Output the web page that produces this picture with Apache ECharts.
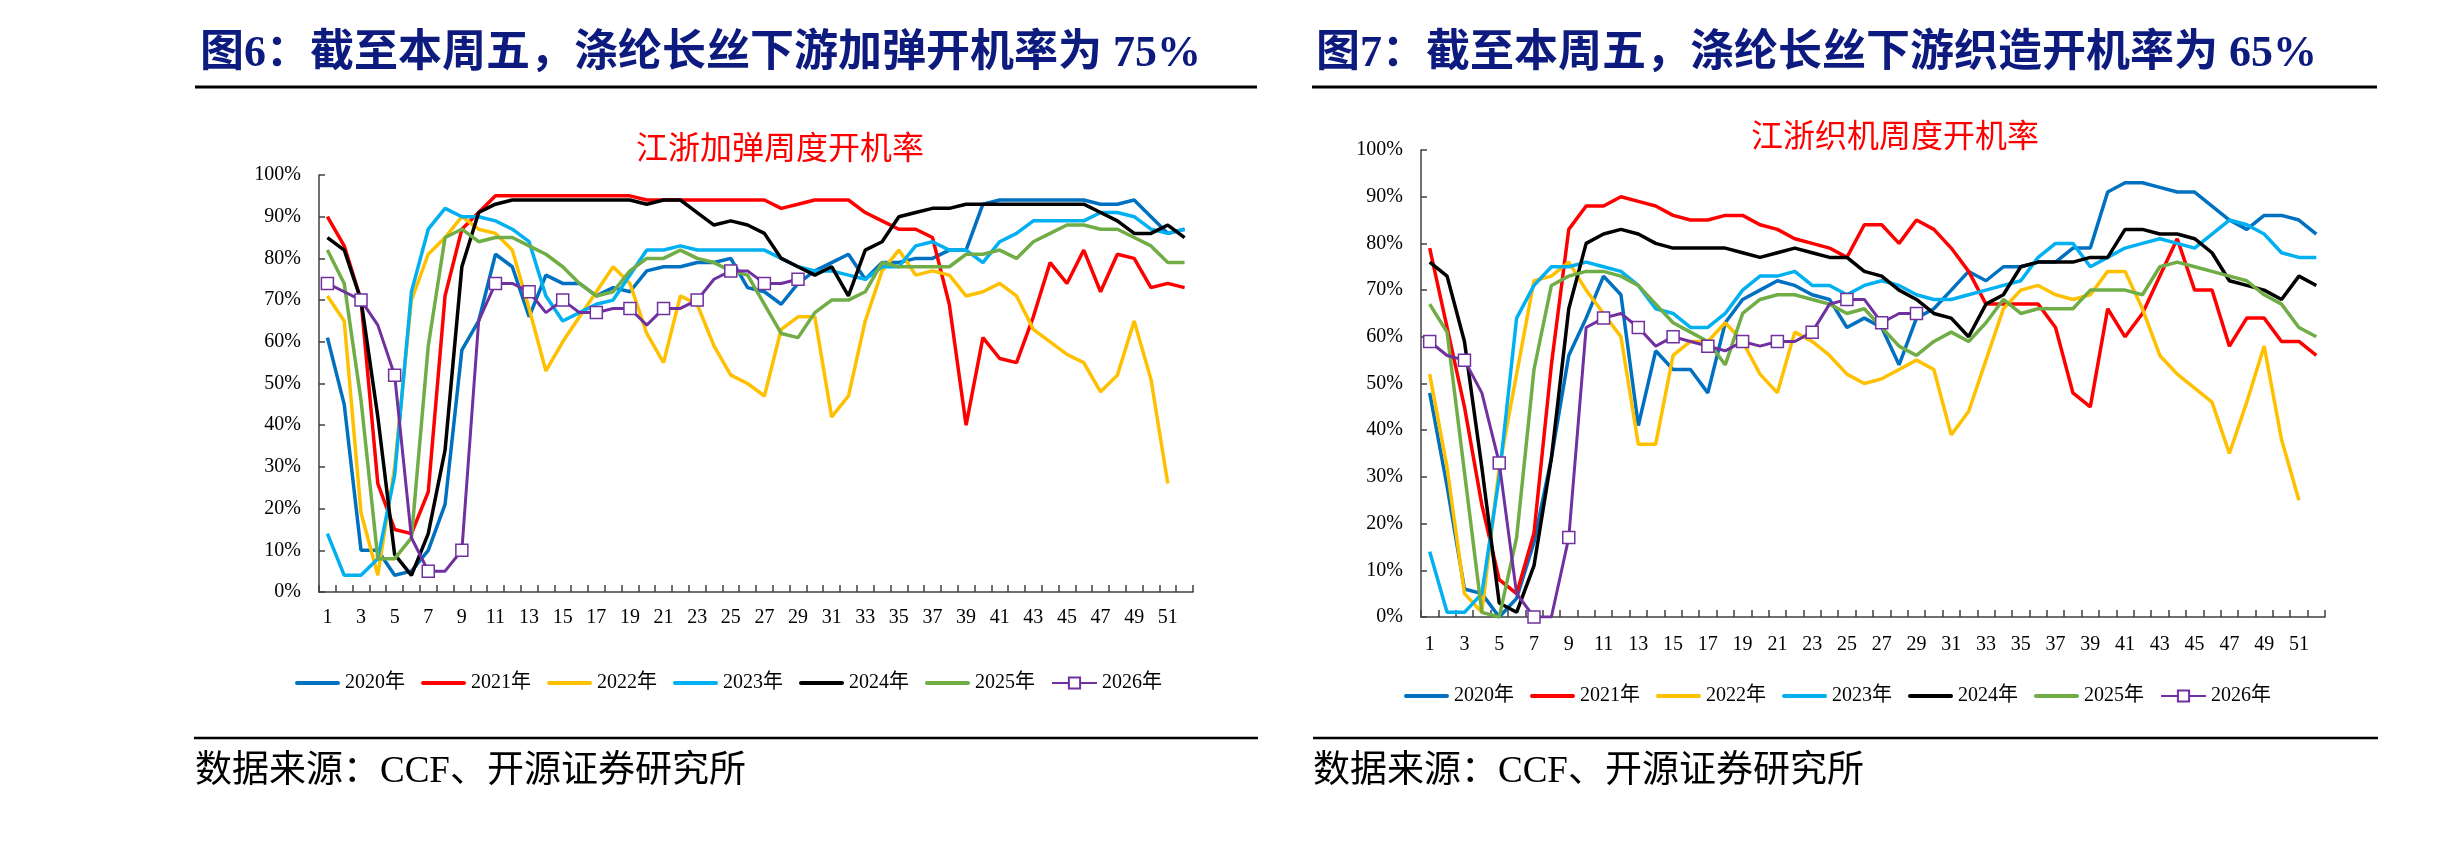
<!DOCTYPE html>
<html>
<head>
<meta charset="utf-8">
<title>涤纶长丝下游开机率</title>
<script src="https://cdn.jsdelivr.net/npm/echarts@6/dist/echarts.min.js"></script>
<style>
    html, body {margin: 0; padding: 0; background: #fff;}
    #main {width: 2457px; height: 843px;}
</style>
</head>
<body>
<div id="main"></div>
<script>
// 周次 1..52
let weeks = [];
for (let i = 1; i <= 52; i++) {
    weeks.push(String(i));
}

let yearNames = ['2020年', '2021年', '2022年', '2023年', '2024年', '2025年', '2026年'];
let yearColors = ['#0070C0', '#FF0000', '#FFC000', '#00B0F0', '#000000', '#70AD47', '#7030A0'];

// 江浙加弹周度开机率 (%)
let jt2020 = [61, 45, 10, 10, 4, 5, 10, 21, 58, 65, 81, 78, 66, 76, 74, 74, 71, 73, 72, 77, 78, 78, 79, 79, 80, 73, 72, 69, 74, 77, 79, 81, 75, 79, 79, 80, 80, 82, 82, 93, 94, 94, 94, 94, 94, 94, 93, 93, 94, 90, 86, 87];
let jt2021 = [90, 83, 70, 26, 15, 14, 24, 71, 87, 91, 95, 95, 95, 95, 95, 95, 95, 95, 95, 94, 94, 94, 94, 94, 94, 94, 94, 92, 93, 94, 94, 94, 91, 89, 87, 87, 85, 69, 40, 61, 56, 55, 66, 79, 74, 82, 72, 81, 80, 73, 74, 73];
let jt2022 = [71, 65, 19, 4, 30, 70, 81, 85, 90, 87, 86, 82, 68, 53, 60, 66, 72, 78, 74, 62, 55, 71, 69, 59, 52, 50, 47, 63, 66, 66, 42, 47, 65, 77, 82, 76, 77, 76, 71, 72, 74, 71, 63, 60, 57, 55, 48, 52, 65, 51, 26, null];
let jt2023 = [14, 4, 4, 8, 28, 72, 87, 92, 90, 90, 89, 87, 84, 71, 65, 67, 69, 70, 76, 82, 82, 83, 82, 82, 82, 82, 82, 80, 78, 77, 77, 76, 75, 78, 78, 83, 84, 82, 82, 79, 84, 86, 89, 89, 89, 89, 91, 91, 90, 87, 86, 87];
let jt2024 = [85, 82, 70, 42, 9, 4, 14, 34, 78, 91, 93, 94, 94, 94, 94, 94, 94, 94, 94, 93, 94, 94, 91, 88, 89, 88, 86, 80, 78, 76, 78, 71, 82, 84, 90, 91, 92, 92, 93, 93, 93, 93, 93, 93, 93, 93, 91, 89, 86, 86, 88, 85];
let jt2025 = [82, 74, 46, 8, 8, 13, 59, 85, 87, 84, 85, 85, 83, 81, 78, 74, 71, 72, 77, 80, 80, 82, 80, 79, 77, 76, 69, 62, 61, 67, 70, 70, 72, 79, 78, 78, 78, 78, 81, 81, 82, 80, 84, 86, 88, 88, 87, 87, 85, 83, 79, 79];
let jt2026 = [74, 72, 70, 64, 52, 13, 5, 5, 10, 65, 74, 74, 72, 67, 70, 67, 67, 68, 68, 64, 68, 68, 70, 75, 77, 77, 74, 74, 75];

// 江浙织机周度开机率 (%)
let zz2020 = [48, 28, 6, 5, 0, 4, 16, 34, 56, 64, 73, 69, 41, 57, 53, 53, 48, 63, 68, 70, 72, 71, 69, 68, 62, 64, 62, 54, 64, 66, 70, 74, 72, 75, 75, 76, 76, 79, 79, 91, 93, 93, 92, 91, 91, 88, 85, 83, 86, 86, 85, 82];
let zz2021 = [79, 62, 45, 24, 8, 5, 18, 54, 83, 88, 88, 90, 89, 88, 86, 85, 85, 86, 86, 84, 83, 81, 80, 79, 77, 84, 84, 80, 85, 83, 79, 74, 67, 67, 67, 67, 62, 48, 45, 66, 60, 65, 73, 81, 70, 70, 58, 64, 64, 59, 59, 56];
let zz2022 = [52, 32, 5, 1, 32, 52, 72, 73, 76, 70, 65, 60, 37, 37, 56, 59, 59, 63, 59, 52, 48, 61, 59, 56, 52, 50, 51, 53, 55, 53, 39, 44, 55, 66, 70, 71, 69, 68, 69, 74, 74, 66, 56, 52, 49, 46, 35, 46, 58, 38, 25, null];
let zz2023 = [14, 1, 1, 5, 30, 64, 71, 75, 75, 76, 75, 74, 71, 66, 65, 62, 62, 65, 70, 73, 73, 74, 71, 71, 69, 71, 72, 71, 69, 68, 68, 69, 70, 71, 72, 77, 80, 80, 75, 77, 79, 80, 81, 80, 79, 82, 85, 84, 82, 78, 77, 77];
let zz2024 = [76, 73, 59, 32, 3, 1, 11, 34, 66, 80, 82, 83, 82, 80, 79, 79, 79, 79, 78, 77, 78, 79, 78, 77, 77, 74, 73, 70, 68, 65, 64, 60, 67, 69, 75, 76, 76, 76, 77, 77, 83, 83, 82, 82, 81, 78, 72, 71, 70, 68, 73, 71];
let zz2025 = [67, 61, 31, 1, 0, 17, 53, 71, 73, 74, 74, 73, 71, 67, 63, 61, 59, 54, 65, 68, 69, 69, 68, 67, 65, 66, 62, 58, 56, 59, 61, 59, 63, 68, 65, 66, 66, 66, 70, 70, 70, 69, 75, 76, 75, 74, 73, 72, 69, 67, 62, 60];
let zz2026 = [59, 56, 55, 48, 33, 5, 0, 0, 17, 62, 64, 65, 62, 58, 60, 59, 58, 57, 59, 58, 59, 59, 61, 67, 68, 68, 63, 65, 65];

let yTicks = {min: 0, max: 100, interval: 10};

let serifFont = '"Liberation Serif", "Times New Roman", "Noto Sans CJK SC", serif';
let cjkFont = '"Liberation Serif", "Noto Sans CJK SC", sans-serif';

// 图例里的线段图标（除 2026 年外都只画线）
let lineIcon = 'path://M2,0 L43,0 A2,2 0 0 1 43,4 L2,4 A2,2 0 0 1 2,0 Z';

function makeSeries(name, color, data, gridIdx) {
    let s = {
        name: name,
        type: 'line',
        xAxisIndex: gridIdx,
        yAxisIndex: gridIdx,
        data: data,
        symbol: 'none',
        smooth: false,
        lineStyle: {color: color, width: 3.5},
        itemStyle: {color: color},
        emphasis: {disabled: true},
        animation: false
    };
    if (name === '2026年') {
        s.symbol = 'rect';
        s.symbolSize = 12;
        s.lineStyle.width = 3;
        s.itemStyle = {color: '#FFFFFF', borderColor: color, borderWidth: 1.5};
    }
    return s;
}

function makeXAxis(gridIdx, labelMargin) {
    return {
        type: 'category',
        gridIndex: gridIdx,
        data: weeks,
        boundaryGap: true,
        axisLine: {lineStyle: {color: '#404040', width: 1.5}},
        axisTick: {show: true, inside: true, length: 7, interval: 0, lineStyle: {color: '#404040', width: 1.5}},
        axisLabel: {interval: 1, margin: labelMargin, color: '#000', fontSize: 20, fontFamily: serifFont},
        splitLine: {show: false}
    };
}

function makeYAxis(gridIdx) {
    return {
        type: 'value',
        gridIndex: gridIdx,
        min: yTicks.min,
        max: yTicks.max,
        interval: yTicks.interval,
        axisLine: {show: true, lineStyle: {color: '#404040', width: 1.5}},
        axisTick: {show: true, inside: true, length: 6, lineStyle: {color: '#404040', width: 1.5}},
        axisLabel: {formatter: '{value}%', margin: 18, color: '#000', fontSize: 20, fontFamily: serifFont},
        splitLine: {show: false}
    };
}

function makeLegend(left, top) {
    let items = yearNames.map(function (n) {
        return n === '2026年' ? {name: n} : {name: n, icon: lineIcon};
    });
    return {
        left: left,
        top: top,
        data: items,
        itemWidth: 45,
        itemHeight: 14,
        itemGap: 16,
        symbolKeepAspect: true,
        textStyle: {fontSize: 20, color: '#000', fontFamily: cjkFont},
        selectedMode: false
    };
}

function textEl(text, x, y, font, fill, align) {
    return {
        type: 'text',
        style: {
            text: text, x: x, y: y, font: font, fill: fill,
            align: align, textAlign: align,
            verticalAlign: 'middle', textVerticalAlign: 'middle'
        }
    };
}

function lineEl(x1, y, x2, w) {
    return {
        type: 'line',
        shape: {x1: x1, y1: y, x2: x2, y2: y},
        style: {stroke: '#000', lineWidth: w}
    };
}

let leftData = [jt2020, jt2021, jt2022, jt2023, jt2024, jt2025, jt2026];
let rightData = [zz2020, zz2021, zz2022, zz2023, zz2024, zz2025, zz2026];

let series = [];
for (let i = 0; i < yearNames.length; i++) {
    series.push(makeSeries(yearNames[i], yearColors[i], leftData[i], 0));
}
for (let i = 0; i < yearNames.length; i++) {
    series.push(makeSeries(yearNames[i], yearColors[i], rightData[i], 1));
}

let titleFont = 'bold 44px "Liberation Serif", "Noto Sans CJK SC", serif';
let subFont = '32px "Noto Sans CJK SC", sans-serif';
let srcFont = '37px "Liberation Serif", "Noto Sans CJK SC", serif';

let myChart = echarts.init(document.getElementById('main'), null, {renderer: 'canvas'});

let option = {
    backgroundColor: '#FFFFFF',
    animation: false,
    grid: [
        {left: 319, top: 175, width: 874, height: 417},
        {left: 1421, top: 150, width: 904, height: 467}
    ],
    xAxis: [makeXAxis(0, 16), makeXAxis(1, 18)],
    yAxis: [makeYAxis(0), makeYAxis(1)],
    legend: [makeLegend(290, 668), makeLegend(1399, 681)],
    series: series,
    graphic: [
        textEl('图6：截至本周五，涤纶长丝下游加弹开机率为 75%', 200, 55, titleFont, '#0E1B7E', 'left'),
        lineEl(195, 87, 1257, 3),
        textEl('图7：截至本周五，涤纶长丝下游织造开机率为 65%', 1316, 55, titleFont, '#0E1B7E', 'left'),
        lineEl(1312, 87, 2377, 3),
        textEl('江浙加弹周度开机率', 780, 147, subFont, '#FF0000', 'center'),
        textEl('江浙织机周度开机率', 1895, 135, subFont, '#FF0000', 'center'),
        lineEl(194, 738, 1258, 2.5),
        lineEl(1313, 738, 2378, 2.5),
        textEl('数据来源：CCF、开源证券研究所', 195, 772, srcFont, '#000', 'left'),
        textEl('数据来源：CCF、开源证券研究所', 1313, 772, srcFont, '#000', 'left')
    ]
};

myChart.setOption(option);
</script>
</body>
</html>
